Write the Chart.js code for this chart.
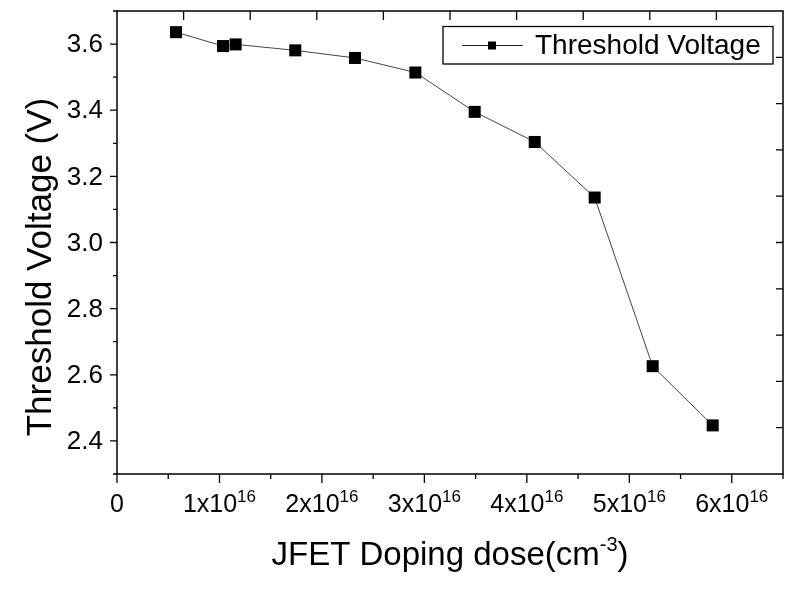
<!DOCTYPE html>
<html>
<head>
<meta charset="utf-8">
<script src="https://cdn.jsdelivr.net/npm/chart.js@4.4.0/dist/chart.umd.min.js"></script>
<style>
  html, body { margin: 0; padding: 0; background: #fff; }
  #wrap { width: 802px; height: 593px; }
</style>
</head>
<body>
<div id="wrap"><canvas id="vthChart" width="802" height="593"></canvas></div>
<script>
'use strict';

// Data (dose in cm^-3, threshold in V)
const doseValues = [0.576e16, 1.035e16, 1.158e16, 1.740e16, 2.323e16, 2.912e16, 3.491e16, 4.077e16, 4.662e16, 5.228e16, 5.814e16];
const thresholdValues = [3.636, 3.594, 3.599, 3.581, 3.558, 3.514, 3.395, 3.304, 3.136, 2.626, 2.447];

// Axis ranges and ticks
const X_MIN = 0, X_MAX = 6.5e16;
const Y_MIN = 2.3, Y_MAX = 3.7;
const xMajorTicks = [0, 1e16, 2e16, 3e16, 4e16, 5e16, 6e16];
const xTickBase = ['0', '1x10', '2x10', '3x10', '4x10', '5x10', '6x10'];
const xTickSup = ['', '16', '16', '16', '16', '16', '16'];
const xMinorTicks = [0.5e16, 1.5e16, 2.5e16, 3.5e16, 4.5e16, 5.5e16, 6.5e16];
const yMajorTicks = [2.4, 2.6, 2.8, 3.0, 3.2, 3.4, 3.6];
const yTickLabels = ['2.4', '2.6', '2.8', '3.0', '3.2', '3.4', '3.6'];
const yMinorTicks = [2.3, 2.5, 2.7, 2.9, 3.1, 3.3, 3.5, 3.7];
const topTicks = [0.65e16, 1.3e16, 1.95e16, 2.6e16, 3.25e16, 3.9e16, 4.55e16, 5.2e16, 5.85e16];
const rightTicks = [2.44, 2.58, 2.72, 2.86, 3.0, 3.14, 3.28, 3.42, 3.56];

const seriesName = 'Threshold Voltage';
const FONT = '"Liberation Sans", Arial, sans-serif';

// Origin-style frame, ticks, labels, titles and legend
const originAxes = {
    id: 'originAxes',
    afterDraw(chart) {
        const ctx = chart.ctx;
        const a = chart.chartArea;
        const xs = chart.scales.x;
        const ys = chart.scales.y;
        ctx.save();
        ctx.strokeStyle = '#000';
        ctx.fillStyle = '#000';
        ctx.lineWidth = 1.5;
        ctx.strokeRect(a.left, a.top, a.right - a.left, a.bottom - a.top);

        ctx.lineWidth = 1.3;
        ctx.beginPath();
        xMajorTicks.forEach(v => { const px = xs.getPixelForValue(v); ctx.moveTo(px, a.bottom); ctx.lineTo(px, a.bottom + 9); });
        xMinorTicks.forEach(v => { const px = xs.getPixelForValue(v); ctx.moveTo(px, a.bottom); ctx.lineTo(px, a.bottom + 5); });
        yMajorTicks.forEach(v => { const py = ys.getPixelForValue(v); ctx.moveTo(a.left, py); ctx.lineTo(a.left - 7, py); });
        yMinorTicks.forEach(v => { const py = ys.getPixelForValue(v); ctx.moveTo(a.left, py); ctx.lineTo(a.left - 4, py); });
        topTicks.forEach(v => { const px = xs.getPixelForValue(v); ctx.moveTo(px, a.top); ctx.lineTo(px, a.top + 9); });
        rightTicks.forEach(v => { const py = ys.getPixelForValue(v); ctx.moveTo(a.right, py); ctx.lineTo(a.right - 7, py); });
        ctx.stroke();

        // y tick labels
        ctx.font = '26px ' + FONT;
        ctx.textAlign = 'right';
        ctx.textBaseline = 'middle';
        yMajorTicks.forEach((v, i) => ctx.fillText(yTickLabels[i], a.left - 14, ys.getPixelForValue(v) + 1));

        // x tick labels with superscripts
        ctx.textAlign = 'left';
        ctx.textBaseline = 'alphabetic';
        xMajorTicks.forEach((v, i) => {
            ctx.font = '25px ' + FONT;
            const wb = ctx.measureText(xTickBase[i]).width;
            ctx.font = '17px ' + FONT;
            const ws = xTickSup[i] ? ctx.measureText(xTickSup[i]).width : 0;
            const x0 = xs.getPixelForValue(v) - (wb + ws) / 2;
            ctx.font = '25px ' + FONT;
            ctx.fillText(xTickBase[i], x0, a.bottom + 38);
            if (xTickSup[i]) {
                ctx.font = '17px ' + FONT;
                ctx.fillText(xTickSup[i], x0 + wb, a.bottom + 28);
            }
        });

        // x title
        const t1 = 'JFET Doping dose(cm', t2 = '-3', t3 = ')';
        ctx.font = '33px ' + FONT;
        const w1 = ctx.measureText(t1).width, w3 = ctx.measureText(t3).width;
        ctx.font = '20px ' + FONT;
        const w2 = ctx.measureText(t2).width;
        let tx = (a.left + a.right) / 2 - (w1 + w2 + w3) / 2;
        const ty = 565;
        ctx.font = '33px ' + FONT;
        ctx.fillText(t1, tx, ty);
        ctx.font = '20px ' + FONT;
        ctx.fillText(t2, tx + w1, ty - 14);
        ctx.font = '33px ' + FONT;
        ctx.fillText(t3, tx + w1 + w2, ty);

        // y title
        ctx.save();
        ctx.translate(51, 267);
        ctx.rotate(-Math.PI / 2);
        ctx.font = '35px ' + FONT;
        ctx.textAlign = 'center';
        ctx.fillText('Threshold Voltage (V)', 0, 0);
        ctx.restore();

        // legend
        ctx.lineWidth = 1.3;
        ctx.strokeRect(443, 26.5, 330, 37.5);
        ctx.lineWidth = 1;
        ctx.strokeStyle = '#222';
        ctx.beginPath();
        ctx.moveTo(462, 45.5);
        ctx.lineTo(523, 45.5);
        ctx.stroke();
        ctx.fillRect(488, 41.5, 8, 8);
        ctx.font = '28px ' + FONT;
        ctx.textBaseline = 'middle';
        ctx.textAlign = 'left';
        ctx.fillText(seriesName, 535, 46);
        ctx.restore();
    }
};

const ctx = document.getElementById('vthChart').getContext('2d');
const vthChart = new Chart(ctx, {
    type: 'scatter',
    data: {
        datasets: [{
            label: seriesName,
            data: doseValues.map((d, i) => ({ x: d, y: thresholdValues[i] })),
            showLine: true,
            borderColor: '#444',
            borderWidth: 1,
            pointStyle: 'rect',
            pointRadius: 8.5,
            pointBackgroundColor: '#000',
            pointBorderColor: '#000',
            pointBorderWidth: 0,
            clip: false
        }]
    },
    options: {
        responsive: false,
        animation: false,
        layout: { padding: { left: 117, top: 11, right: 19, bottom: 119 } },
        plugins: { legend: { display: false }, tooltip: { enabled: false } },
        scales: {
            x: { type: 'linear', display: false, min: X_MIN, max: X_MAX },
            y: { type: 'linear', display: false, min: Y_MIN, max: Y_MAX }
        }
    },
    plugins: [originAxes]
});
</script>
</body>
</html>
